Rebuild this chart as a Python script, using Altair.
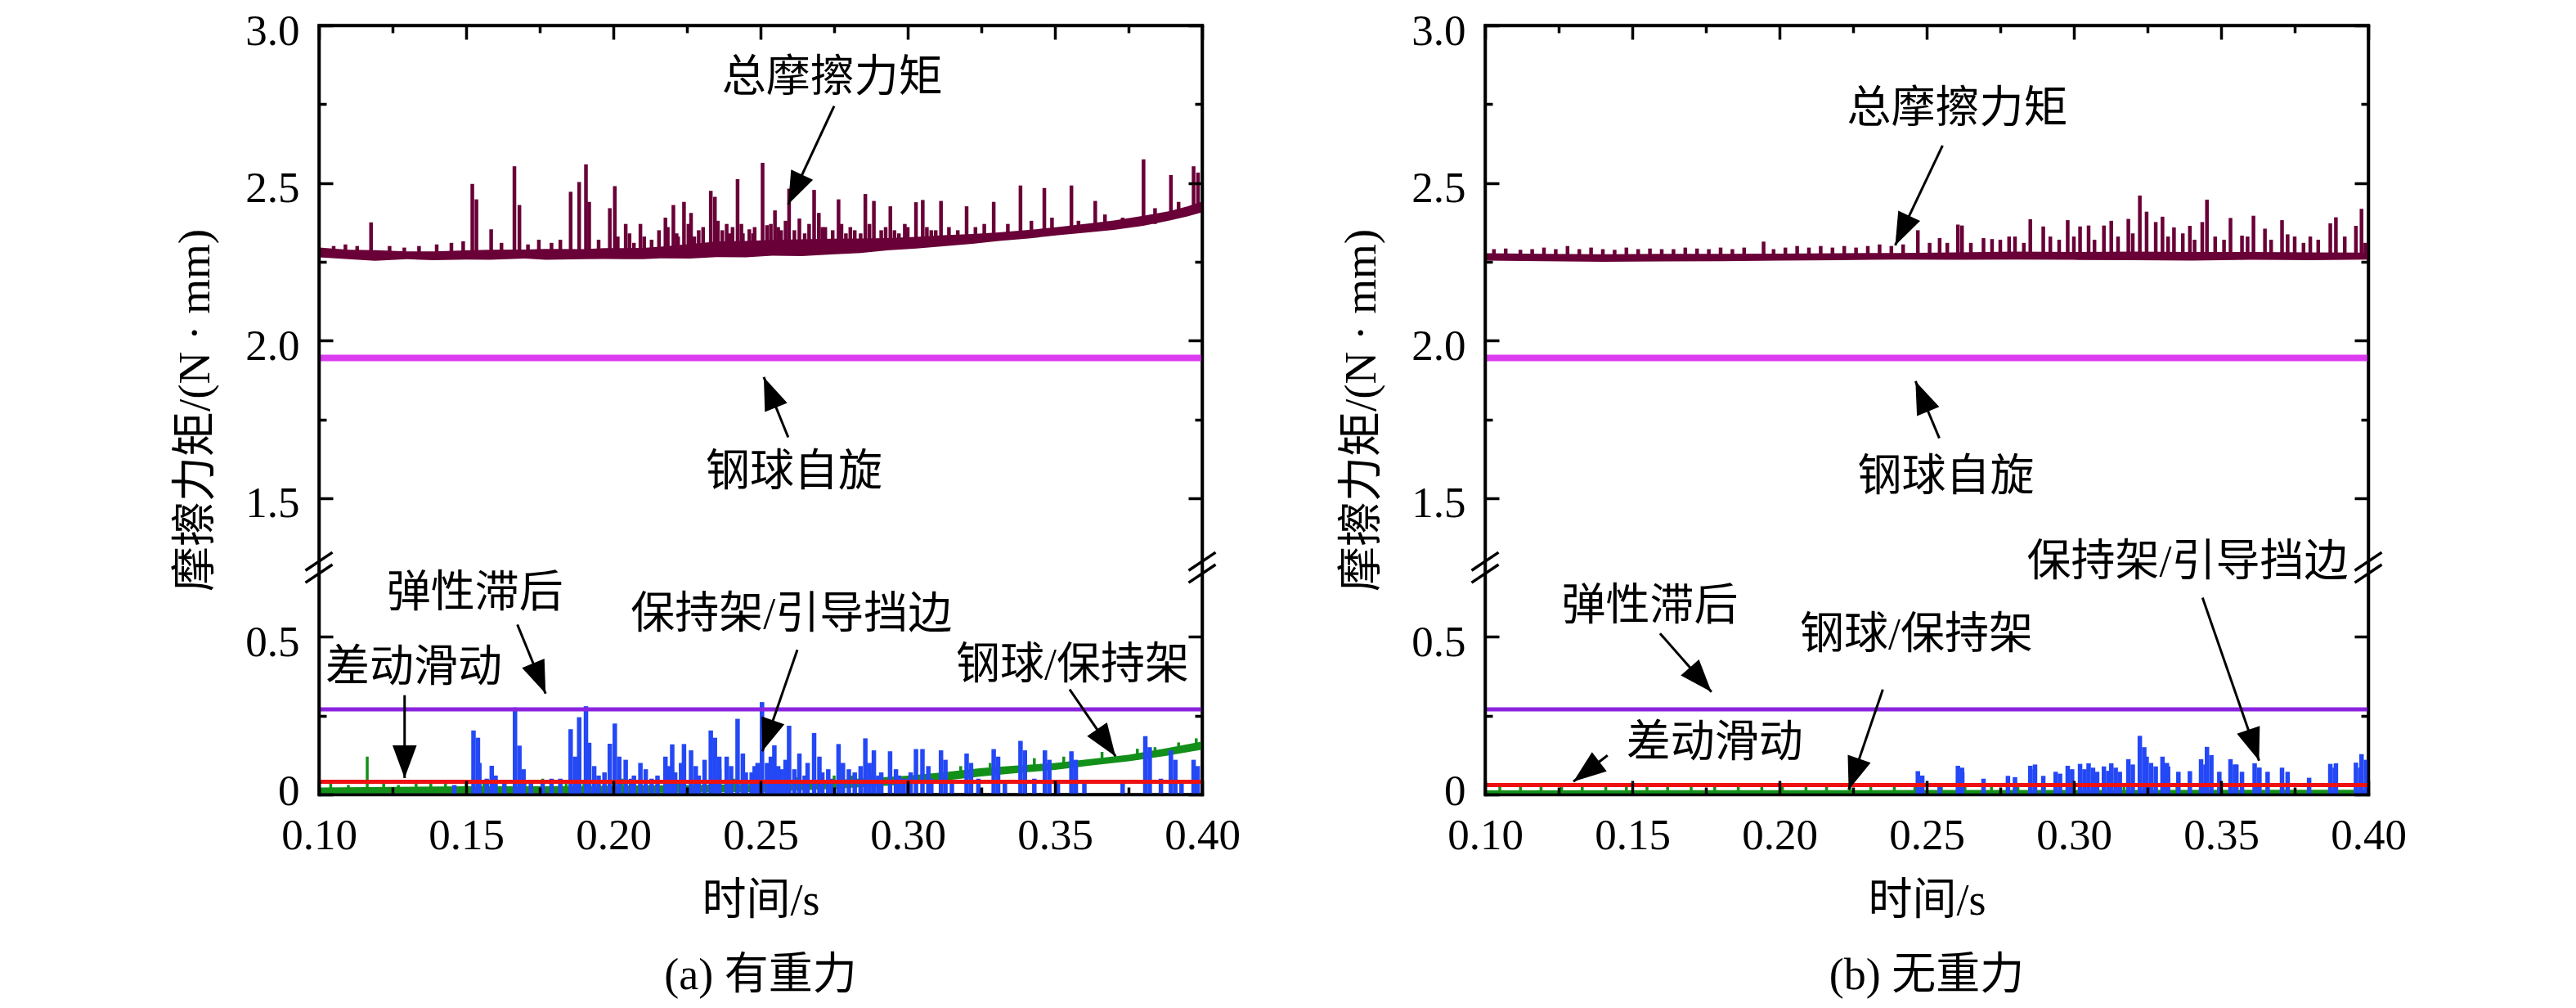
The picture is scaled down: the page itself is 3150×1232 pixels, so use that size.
import math
import altair as alt
import pandas as pd

# ---------------- values ----------------
X_MAJ = [0.10, 0.15, 0.20, 0.25, 0.30, 0.35, 0.40]
X_MIN = [0.125, 0.175, 0.225, 0.275, 0.325, 0.375]
Y_MAJ = [0.0, 0.5, 1.5, 2.0, 2.5, 3.0]
Y_MIN = [0.25, 1.75, 2.25, 2.75]

BREAK_LOW_TOP = 0.72      # lower segment: 0 .. 0.72
BREAK_HIGH_BOTTOM = 1.28  # upper segment: 1.28 .. 3.0
Y_TOP = 3.0

LINE_T = [0.10, 0.40]

# ----- (a) with gravity -----
A_TOTAL_BAND = [  # (t, low edge, high edge) of the noisy total-torque band
    (0.100, 2.264, 2.295), (0.110, 2.258, 2.288), (0.119, 2.253, 2.287), (0.130, 2.258, 2.283),
    (0.139, 2.255, 2.283), (0.150, 2.257, 2.286), (0.158, 2.256, 2.288), (0.170, 2.260, 2.289),
    (0.177, 2.256, 2.291), (0.190, 2.258, 2.290), (0.197, 2.259, 2.293), (0.210, 2.258, 2.294),
    (0.216, 2.261, 2.298), (0.226, 2.260, 2.306), (0.235, 2.265, 2.314), (0.245, 2.264, 2.316),
    (0.254, 2.269, 2.319), (0.264, 2.268, 2.321), (0.274, 2.273, 2.323), (0.284, 2.278, 2.324),
    (0.293, 2.286, 2.325), (0.303, 2.292, 2.329), (0.312, 2.299, 2.334), (0.322, 2.307, 2.338),
    (0.331, 2.316, 2.343), (0.341, 2.324, 2.351), (0.351, 2.334, 2.360), (0.360, 2.342, 2.370),
    (0.370, 2.351, 2.381), (0.380, 2.364, 2.396), (0.389, 2.381, 2.411), (0.395, 2.394, 2.426),
    (0.400, 2.407, 2.441),
]
A_TOTAL_SPIKES = [  # (t, base, peak)
    (0.105, 2.27, 2.300), (0.109, 2.27, 2.305), (0.113, 2.27, 2.300), (0.1177, 2.27, 2.375),
    (0.124, 2.27, 2.300), (0.129, 2.27, 2.295), (0.134, 2.27, 2.300), (0.140, 2.27, 2.305),
    (0.145, 2.27, 2.310), (0.149, 2.27, 2.315), (0.1521, 2.27, 2.497), (0.1535, 2.27, 2.448),
    (0.1585, 2.27, 2.353), (0.162, 2.27, 2.310), (0.1664, 2.27, 2.553), (0.1681, 2.27, 2.430),
    (0.171, 2.27, 2.305), (0.1747, 2.27, 2.320), (0.179, 2.27, 2.310), (0.182, 2.27, 2.320),
    (0.1855, 2.27, 2.472), (0.1884, 2.27, 2.503), (0.1907, 2.27, 2.559), (0.1918, 2.27, 2.440),
    (0.195, 2.27, 2.320), (0.1988, 2.27, 2.420), (0.2005, 2.28, 2.490), (0.2042, 2.28, 2.370),
    (0.207, 2.28, 2.310), (0.2092, 2.28, 2.370), (0.213, 2.28, 2.320), (0.2177, 2.28, 2.390),
    (0.2204, 2.28, 2.430), (0.222, 2.28, 2.330), (0.2240, 2.28, 2.440), (0.2264, 2.28, 2.405),
    (0.229, 2.28, 2.350), (0.2331, 2.28, 2.475), (0.2345, 2.28, 2.456), (0.237, 2.28, 2.350),
    (0.2385, 2.28, 2.370), (0.2422, 2.28, 2.512), (0.244, 2.28, 2.340), (0.2462, 2.28, 2.353),
    (0.248, 2.28, 2.360), (0.2507, 2.29, 2.564), (0.2522, 2.29, 2.366), (0.2549, 2.29, 2.413),
    (0.257, 2.29, 2.350), (0.2597, 2.29, 2.482), (0.2632, 2.29, 2.387), (0.265, 2.29, 2.340),
    (0.2682, 2.29, 2.478), (0.2698, 2.29, 2.405), (0.272, 2.29, 2.360), (0.2765, 2.29, 2.448),
    (0.279, 2.29, 2.340), (0.282, 2.29, 2.350), (0.2856, 2.29, 2.465), (0.2885, 2.29, 2.443),
    (0.291, 2.30, 2.350), (0.2941, 2.30, 2.426), (0.297, 2.30, 2.340), (0.300, 2.30, 2.360),
    (0.3028, 2.30, 2.439), (0.3051, 2.30, 2.446), (0.308, 2.30, 2.350), (0.3113, 2.32, 2.443),
    (0.314, 2.32, 2.360), (0.317, 2.32, 2.350), (0.3200, 2.32, 2.426), (0.323, 2.32, 2.360),
    (0.326, 2.32, 2.370), (0.3292, 2.32, 2.440), (0.334, 2.335, 2.370), (0.3383, 2.335, 2.492),
    (0.342, 2.335, 2.380), (0.3464, 2.335, 2.484), (0.349, 2.335, 2.390), (0.3556, 2.35, 2.492),
    (0.358, 2.35, 2.380), (0.3637, 2.35, 2.443), (0.367, 2.35, 2.400), (0.373, 2.37, 2.390),
    (0.3801, 2.37, 2.575), (0.384, 2.37, 2.420), (0.3894, 2.39, 2.525), (0.392, 2.39, 2.440),
    (0.3971, 2.42, 2.553), (0.3986, 2.42, 2.533),
    (0.2015, 2.28, 2.33), (0.2055, 2.28, 2.34), (0.2105, 2.28, 2.33), (0.2155, 2.28, 2.35),
    (0.2185, 2.28, 2.36), (0.2215, 2.28, 2.34), (0.2255, 2.28, 2.37), (0.2275, 2.28, 2.33),
    (0.2305, 2.28, 2.36), (0.2355, 2.28, 2.38), (0.2395, 2.28, 2.34), (0.2405, 2.28, 2.36),
    (0.2435, 2.28, 2.37), (0.2475, 2.28, 2.34), (0.2535, 2.29, 2.37), (0.2560, 2.29, 2.36),
    (0.2585, 2.29, 2.38), (0.2615, 2.29, 2.35), (0.2665, 2.29, 2.37), (0.2710, 2.29, 2.36),
    (0.2745, 2.29, 2.35), (0.2775, 2.29, 2.37), (0.2805, 2.29, 2.36), (0.2840, 2.29, 2.34),
    (0.2870, 2.29, 2.37), (0.2925, 2.30, 2.36), (0.2955, 2.30, 2.35), (0.2990, 2.30, 2.37),
    (0.3065, 2.30, 2.36), (0.3095, 2.30, 2.35),
]
A_SPIN = [1.945, 1.945]
A_HYST = [0.27, 0.27]
A_SLIP = [0.04, 0.04]
A_GREEN_BAND = [
    (0.100, 0.003, 0.022), (0.125, 0.004, 0.024), (0.150, 0.004, 0.026), (0.175, 0.005, 0.026),
    (0.200, 0.005, 0.028), (0.225, 0.006, 0.030), (0.250, 0.008, 0.034), (0.275, 0.018, 0.046),
    (0.290, 0.026, 0.054), (0.300, 0.032, 0.060), (0.3125, 0.044, 0.071), (0.325, 0.057, 0.084),
    (0.3375, 0.068, 0.092), (0.350, 0.078, 0.100), (0.3625, 0.092, 0.113), (0.375, 0.105, 0.126),
    (0.3875, 0.122, 0.146), (0.400, 0.142, 0.168),
]
A_GREEN_SPIKES = [
    (0.104, 0.01, 0.035), (0.110, 0.01, 0.030), (0.1164, 0.01, 0.120), (0.122, 0.01, 0.035),
    (0.127, 0.01, 0.030), (0.133, 0.01, 0.040), (0.138, 0.01, 0.035), (0.143, 0.01, 0.040),
    (0.150, 0.01, 0.035), (0.156, 0.01, 0.040), (0.163, 0.01, 0.035), (0.170, 0.01, 0.040),
    (0.176, 0.01, 0.050), (0.184, 0.01, 0.040), (0.190, 0.01, 0.045), (0.197, 0.01, 0.040),
    (0.203, 0.01, 0.050), (0.209, 0.01, 0.040), (0.215, 0.01, 0.045), (0.222, 0.01, 0.040),
    (0.228, 0.01, 0.050), (0.234, 0.01, 0.045), (0.241, 0.01, 0.050), (0.248, 0.02, 0.045),
    (0.255, 0.02, 0.050), (0.262, 0.02, 0.055), (0.268, 0.02, 0.050), (0.275, 0.03, 0.060),
    (0.281, 0.03, 0.060), (0.288, 0.03, 0.065), (0.294, 0.04, 0.070), (0.305, 0.05, 0.085),
    (0.318, 0.06, 0.090), (0.328, 0.07, 0.100), (0.343, 0.08, 0.115), (0.353, 0.09, 0.120),
    (0.366, 0.10, 0.135), (0.378, 0.11, 0.145), (0.384, 0.12, 0.150), (0.392, 0.13, 0.165),
    (0.398, 0.14, 0.178),
]
A_BLUE = [  # (t, peak), spikes rise from 0
    (0.146, 0.030), (0.1525, 0.203), (0.1540, 0.180), (0.157, 0.050), (0.1587, 0.091),
    (0.1666, 0.276), (0.1681, 0.155), (0.172, 0.040), (0.176, 0.035), (0.182, 0.050),
    (0.1855, 0.207), (0.1884, 0.245), (0.1907, 0.280), (0.1918, 0.164), (0.195, 0.060),
    (0.1988, 0.161), (0.2005, 0.225), (0.2042, 0.110), (0.207, 0.060), (0.2092, 0.100),
    (0.213, 0.050), (0.2177, 0.120), (0.2200, 0.159), (0.221, 0.070), (0.2240, 0.160),
    (0.2264, 0.140), (0.229, 0.060), (0.2331, 0.203), (0.2345, 0.180), (0.236, 0.080),
    (0.2385, 0.120), (0.2422, 0.240), (0.245, 0.070), (0.248, 0.090), (0.2505, 0.293),
    (0.2522, 0.100), (0.2547, 0.156), (0.257, 0.080), (0.2597, 0.218), (0.2632, 0.130),
    (0.265, 0.060), (0.2682, 0.195), (0.271, 0.070), (0.274, 0.050), (0.2765, 0.160),
    (0.280, 0.080), (0.2856, 0.178), (0.2885, 0.140), (0.291, 0.070), (0.2940, 0.137),
    (0.297, 0.060), (0.300, 0.050), (0.3028, 0.144), (0.3050, 0.144), (0.308, 0.050),
    (0.3113, 0.140), (0.315, 0.040), (0.3200, 0.130), (0.324, 0.050), (0.3292, 0.144),
    (0.333, 0.040), (0.3383, 0.170), (0.343, 0.050), (0.3466, 0.140), (0.351, 0.040),
    (0.3556, 0.137), (0.360, 0.040), (0.373, 0.040), (0.3807, 0.185), (0.386, 0.050),
    (0.3894, 0.140), (0.393, 0.040), (0.3971, 0.110),
    (0.1545, 0.100), (0.1600, 0.060), (0.1630, 0.040), (0.1695, 0.080), (0.1790, 0.050),
    (0.1870, 0.120), (0.1935, 0.090), (0.1970, 0.070), (0.2020, 0.120), (0.2060, 0.050),
    (0.2110, 0.080), (0.2150, 0.060), (0.2190, 0.090), (0.2230, 0.100), (0.2280, 0.090),
    (0.2310, 0.110), (0.2360, 0.120), (0.2400, 0.090), (0.2440, 0.130), (0.2470, 0.070),
    (0.2490, 0.100), (0.2535, 0.120), (0.2560, 0.090), (0.2585, 0.110), (0.2615, 0.080),
    (0.2660, 0.100), (0.2700, 0.120), (0.2730, 0.080), (0.2780, 0.100), (0.2820, 0.070),
    (0.2840, 0.090), (0.2870, 0.100), (0.2900, 0.060), (0.2960, 0.080), (0.2985, 0.050),
    (0.3010, 0.070), (0.3070, 0.090), (0.3128, 0.110), (0.3215, 0.100), (0.3307, 0.120),
    (0.3398, 0.140), (0.3481, 0.110), (0.3571, 0.110), (0.3822, 0.150), (0.3909, 0.110),
    (0.3985, 0.090),
]
A_TEXT = [
    ("总摩擦力矩", 0.2744, 2.831), ("钢球自旋", 0.2614, 1.579), ("弹性滞后", 0.153, 0.635),
    ("差动滑动", 0.1322, 0.400), ("保持架/引导挡边", 0.2605, 0.568), ("钢球/保持架", 0.356, 0.408),
]
A_ARROWS = [  # (tail t, tail value, tip t, tip value)
    (0.275, 2.744, 0.2594, 2.432), (0.2594, 1.693, 0.2511, 1.884), (0.1674, 0.539, 0.177, 0.320),
    (0.1291, 0.315, 0.1291, 0.052), (0.2625, 0.459, 0.2506, 0.137), (0.355, 0.333, 0.3706, 0.121),
]

# ----- (b) without gravity -----
B_TOTAL_BAND = [
    (0.100, 2.254, 2.277), (0.120, 2.252, 2.275), (0.140, 2.250, 2.274), (0.160, 2.251, 2.275),
    (0.180, 2.252, 2.275), (0.200, 2.254, 2.276), (0.220, 2.255, 2.277), (0.240, 2.257, 2.278),
    (0.260, 2.256, 2.280), (0.280, 2.257, 2.282), (0.300, 2.256, 2.281), (0.320, 2.255, 2.282),
    (0.340, 2.254, 2.281), (0.360, 2.256, 2.281), (0.380, 2.255, 2.280), (0.400, 2.257, 2.279),
]
B_TOTAL_SPIKES = [
    (0.103, 2.265, 2.290), (0.107, 2.265, 2.292), (0.112, 2.265, 2.288), (0.116, 2.265, 2.290),
    (0.120, 2.265, 2.295), (0.124, 2.265, 2.290), (0.128, 2.265, 2.300), (0.132, 2.265, 2.290),
    (0.136, 2.265, 2.295), (0.140, 2.265, 2.290), (0.144, 2.265, 2.288), (0.148, 2.265, 2.295),
    (0.152, 2.265, 2.290), (0.156, 2.265, 2.292), (0.160, 2.265, 2.290), (0.164, 2.265, 2.290),
    (0.168, 2.265, 2.295), (0.172, 2.265, 2.292), (0.176, 2.265, 2.290), (0.180, 2.265, 2.295),
    (0.184, 2.265, 2.290), (0.188, 2.265, 2.295), (0.1946, 2.265, 2.314), (0.198, 2.265, 2.290),
    (0.202, 2.265, 2.295), (0.206, 2.265, 2.300), (0.210, 2.265, 2.295), (0.214, 2.265, 2.300),
    (0.218, 2.265, 2.295), (0.222, 2.265, 2.300), (0.226, 2.265, 2.295), (0.230, 2.265, 2.300),
    (0.234, 2.265, 2.305), (0.238, 2.265, 2.300), (0.242, 2.265, 2.305), (0.247, 2.265, 2.350),
    (0.251, 2.265, 2.310), (0.2544, 2.265, 2.325), (0.257, 2.265, 2.310), (0.2606, 2.265, 2.368),
    (0.2620, 2.265, 2.365), (0.265, 2.265, 2.310), (0.2693, 2.265, 2.325), (0.2722, 2.265, 2.322),
    (0.275, 2.265, 2.320), (0.278, 2.265, 2.330), (0.280, 2.265, 2.330), (0.283, 2.265, 2.310),
    (0.2852, 2.265, 2.385), (0.2896, 2.265, 2.362), (0.292, 2.265, 2.330), (0.295, 2.265, 2.320),
    (0.2979, 2.265, 2.382), (0.300, 2.265, 2.330), (0.3021, 2.265, 2.362), (0.305, 2.265, 2.365),
    (0.307, 2.265, 2.320), (0.3102, 2.265, 2.365), (0.3127, 2.265, 2.380), (0.315, 2.265, 2.330),
    (0.3185, 2.265, 2.386), (0.320, 2.265, 2.340), (0.3224, 2.265, 2.460), (0.3247, 2.265, 2.409),
    (0.3278, 2.265, 2.376), (0.3301, 2.265, 2.393), (0.332, 2.265, 2.330), (0.334, 2.265, 2.359),
    (0.337, 2.265, 2.340), (0.3394, 2.265, 2.364), (0.341, 2.265, 2.320), (0.3436, 2.265, 2.376),
    (0.3452, 2.265, 2.447), (0.348, 2.265, 2.330), (0.351, 2.265, 2.320), (0.3532, 2.265, 2.389),
    (0.3571, 2.265, 2.333), (0.359, 2.265, 2.330), (0.361, 2.265, 2.396), (0.3649, 2.265, 2.355),
    (0.367, 2.265, 2.320), (0.3707, 2.265, 2.382), (0.3726, 2.265, 2.337), (0.375, 2.265, 2.330),
    (0.378, 2.265, 2.310), (0.3803, 2.265, 2.330), (0.383, 2.265, 2.320), (0.3871, 2.265, 2.372),
    (0.389, 2.265, 2.391), (0.392, 2.265, 2.330), (0.3958, 2.265, 2.364), (0.3977, 2.265, 2.418),
    (0.399, 2.265, 2.310),
]
B_SPIN = [1.945, 1.945]
B_HYST = [0.27, 0.27]
B_SLIP = [0.03, 0.03]
B_GREEN_BAND = [(0.100, 0.002, 0.013), (0.250, 0.002, 0.014), (0.400, 0.002, 0.015)]
B_GREEN_SPIKES = [
    (0.105, 0.005, 0.030), (0.112, 0.005, 0.025), (0.119, 0.005, 0.036), (0.126, 0.005, 0.025),
    (0.133, 0.005, 0.030), (0.141, 0.005, 0.028), (0.148, 0.005, 0.033), (0.155, 0.005, 0.030),
    (0.162, 0.005, 0.028), (0.170, 0.005, 0.032), (0.178, 0.005, 0.030), (0.186, 0.005, 0.035),
    (0.194, 0.005, 0.028), (0.201, 0.005, 0.032), (0.209, 0.005, 0.030), (0.216, 0.005, 0.034),
    (0.224, 0.005, 0.030), (0.231, 0.005, 0.036), (0.239, 0.005, 0.030), (0.246, 0.005, 0.033),
    (0.255, 0.005, 0.030), (0.263, 0.005, 0.035), (0.272, 0.005, 0.030), (0.281, 0.005, 0.033),
    (0.290, 0.005, 0.030), (0.299, 0.005, 0.035), (0.308, 0.005, 0.030), (0.317, 0.005, 0.036),
    (0.326, 0.005, 0.030), (0.335, 0.005, 0.032), (0.344, 0.005, 0.030), (0.353, 0.005, 0.034),
    (0.362, 0.005, 0.030), (0.371, 0.005, 0.033), (0.380, 0.005, 0.035), (0.389, 0.005, 0.030),
    (0.396, 0.005, 0.032),
]
B_BLUE = [
    (0.247, 0.074), (0.2544, 0.036), (0.2606, 0.091), (0.2620, 0.085), (0.2693, 0.050),
    (0.2776, 0.059), (0.2800, 0.055), (0.2852, 0.091), (0.2868, 0.095), (0.2896, 0.059),
    (0.2938, 0.072), (0.2953, 0.066), (0.2979, 0.091), (0.3021, 0.097), (0.3050, 0.099),
    (0.3079, 0.072), (0.3102, 0.089), (0.3127, 0.099), (0.3156, 0.072), (0.3185, 0.112),
    (0.3224, 0.186), (0.3247, 0.120), (0.3278, 0.089), (0.3301, 0.120), (0.3320, 0.089),
    (0.3355, 0.072), (0.3394, 0.074), (0.3432, 0.112), (0.3452, 0.151), (0.3494, 0.072),
    (0.3532, 0.112), (0.3552, 0.095), (0.3571, 0.072), (0.3614, 0.099), (0.3630, 0.085),
    (0.3658, 0.072), (0.3707, 0.085), (0.3726, 0.072), (0.3799, 0.053), (0.3871, 0.097),
    (0.3890, 0.099), (0.3958, 0.101), (0.3977, 0.128),
    (0.2485, 0.060), (0.2621, 0.070), (0.2867, 0.080), (0.2994, 0.080), (0.3036, 0.080),
    (0.3065, 0.085), (0.3117, 0.075), (0.3142, 0.085), (0.3200, 0.095), (0.3239, 0.150),
    (0.3262, 0.100), (0.3316, 0.100), (0.3447, 0.095), (0.3467, 0.125), (0.3547, 0.095),
    (0.3629, 0.085), (0.3886, 0.085), (0.3973, 0.085), (0.3992, 0.110),
]
B_TEXT = [
    ("总摩擦力矩", 0.2604, 2.733), ("钢球自旋", 0.2565, 1.564), ("保持架/引导挡边", 0.3386, 0.735),
    ("弹性滞后", 0.156, 0.594), ("钢球/保持架", 0.2465, 0.503), ("差动滑动", 0.178, 0.162),
]
B_ARROWS = [
    (0.2554, 2.619, 0.2393, 2.302), (0.2543, 1.690, 0.2462, 1.871), (0.3437, 0.624, 0.3629, 0.107),
    (0.1594, 0.511, 0.1769, 0.325), (0.2351, 0.333, 0.2235, 0.015), (0.1416, 0.124, 0.1300, 0.041),
]

# ---------------- style ----------------
W, H = 1080, 940
GAP = BREAK_HIGH_BOTTOM - BREAK_LOW_TOP
YTOP = Y_TOP - GAP
FONT = "Liberation Serif, Noto Sans CJK SC"
C_TOTAL = "#690037"
C_SPIN = "#DC3CF0"
C_HYST = "#8A22E0"
C_SLIP = "#EE1111"
C_GREEN = "#13901A"
C_BLUE = "#2448F5"
HEAD_PATH = "M0,0L0.37,1L-0.37,1Z"
HEAD_SIZE = 6400
BREAK_PATH = "M-1,0.22L1,-1.12M-1,1.12L1,-0.22"


def disp(v):
    return v - GAP if v >= 1.0 else v


def dexpr(f):
    return f"datum.{f} >= 1 ? datum.{f} - {GAP:.4f} : datum.{f}"


Y_MAJ_D = [disp(v) for v in Y_MAJ]
Y_MIN_D = [disp(v) for v in Y_MIN]
LABEL_EXPR = (f"datum.value > {BREAK_LOW_TOP} ? format(datum.value + {GAP:.4f}, '.1f') : "
              "(datum.value == 0 ? '0' : format(datum.value, '.1f'))")

TXT = dict(labelFont=FONT, labelColor="black", titleFont=FONT, titleColor="black",
           titleFontWeight="normal")


def ax_lab_x():
    return alt.Axis(orient="bottom", values=X_MAJ, format=".2f", ticks=False, tickSize=0,
                    domain=False, grid=False, labelFontSize=53, labelPadding=24,
                    labelFlush=False, title="时间/s", titleFontSize=54, titlePadding=26, **TXT)


def ax_lab_y():
    # all y labels except the "0" at the bottom corner
    return alt.Axis(orient="left", values=Y_MAJ_D[1:], labelExpr=LABEL_EXPR, ticks=False,
                    tickSize=0, domain=False, grid=False, labelFontSize=53, labelPadding=24,
                    labelOffset=7, labelFlush=False, title="摩擦力矩/(N · mm)",
                    titleFontSize=55, titlePadding=32, **TXT)


def ax_zero_y():
    # the "0" label sits a little higher so it clears the "0.10" below it
    return alt.Axis(orient="left", values=Y_MAJ_D[:1], labelExpr=LABEL_EXPR, ticks=False,
                    tickSize=0, domain=False, grid=False, labelFontSize=53, labelPadding=24,
                    labelOffset=-4, labelFlush=False, title=None, **TXT)


def ax_ticks(orient, offset, values, size, frame=False):
    return alt.Axis(orient=orient, offset=offset, values=values, labels=False, domain=frame,
                    domainColor="black", domainWidth=3.5, domainCap="square",
                    grid=False, ticks=True, tickSize=size, tickWidth=3.5, tickColor="black",
                    title=None, zindex=2)


def px(t, v):
    return (t - 0.1) / 0.3 * W, (YTOP - disp(v)) / YTOP * H


def panel(total_band, total_spikes, spin, hyst, slip, green_band, green_spikes, blue,
          texts, arrows, caption):
    xs = alt.Scale(domain=[0.1, 0.4], nice=False, zero=False)
    ys = alt.Scale(domain=[0.0, YTOP], nice=False, zero=False)

    def ex(f, axis=None):
        return alt.X(f"{f}:Q", scale=xs, axis=axis)

    def ey(f, axis=None):
        return alt.Y(f"{f}:Q", scale=ys, axis=axis)

    tb = pd.DataFrame(total_band, columns=["t", "lo", "hi"])
    l_tb = (alt.Chart(tb).transform_calculate(dlo=dexpr("lo"), dhi=dexpr("hi"))
            .mark_area(color=C_TOTAL)
            .encode(x=ex("t", ax_lab_x()), y=ey("dlo", ax_lab_y()), y2="dhi:Q"))

    ts = pd.DataFrame(total_spikes, columns=["t", "lo", "hi"])
    l_ts = (alt.Chart(ts).transform_calculate(dlo=dexpr("lo"), dhi=dexpr("hi"))
            .mark_rule(color=C_TOTAL, strokeWidth=4.5)
            .encode(x=ex("t", ax_ticks("top", -H, X_MAJ, 17, True)),
                    y=ey("dlo", ax_ticks("right", -W, Y_MAJ_D, 17, True)), y2="dhi:Q"))

    sp = pd.DataFrame({"t": LINE_T, "v": spin})
    l_sp = (alt.Chart(sp).transform_calculate(d=dexpr("v"))
            .mark_line(color=C_SPIN, strokeWidth=8)
            .encode(x=ex("t", ax_ticks("top", -H, X_MIN, 9)),
                    y=ey("d", ax_ticks("right", -W, Y_MIN_D, 9))))

    gb = pd.DataFrame(green_band, columns=["t", "lo", "hi"])
    l_gb = (alt.Chart(gb).mark_area(color=C_GREEN)
            .encode(x=ex("t"), y=ey("lo", ax_zero_y()), y2="hi:Q"))

    gs = pd.DataFrame(green_spikes, columns=["t", "lo", "hi"])
    l_gs = (alt.Chart(gs).mark_rule(color=C_GREEN, strokeWidth=3.5)
            .encode(x=ex("t"), y=ey("lo"), y2="hi:Q"))

    bl = pd.DataFrame(blue, columns=["t", "v"])
    bl["z"] = 0.0
    l_bl = (alt.Chart(bl).mark_rule(color=C_BLUE, strokeWidth=5.5)
            .encode(x=ex("t"), y=ey("z"), y2="v:Q"))

    rd = pd.DataFrame({"t": LINE_T, "v": slip})
    l_rd = (alt.Chart(rd).mark_line(color=C_SLIP, strokeWidth=5)
            .encode(x=ex("t", ax_ticks("bottom", -H, X_MIN, 9)),
                    y=ey("v", ax_ticks("left", -W, Y_MIN_D, 9))))

    pu = pd.DataFrame({"t": LINE_T, "v": hyst})
    l_pu = (alt.Chart(pu).mark_line(color=C_HYST, strokeWidth=5)
            .encode(x=ex("t", ax_ticks("bottom", -H, X_MAJ, 17, True)),
                    y=ey("v", ax_ticks("left", -W, Y_MAJ_D, 17, True))))

    ar = pd.DataFrame(arrows, columns=["t0", "v0", "t1", "v1"])
    angs = []
    for t0, v0, t1, v1 in arrows:
        x0, y0 = px(t0, v0)
        x1, y1 = px(t1, v1)
        angs.append(math.degrees(math.atan2(x1 - x0, -(y1 - y0))) % 360)
    ar["ang"] = angs
    l_ar = (alt.Chart(ar).transform_calculate(d0=dexpr("v0"), d1=dexpr("v1"))
            .mark_rule(color="black", strokeWidth=3)
            .encode(x=ex("t0"), y=ey("d0"), x2="t1:Q", y2="d1:Q"))
    l_hd = (alt.Chart(ar).transform_calculate(d1=dexpr("v1"))
            .mark_point(shape=HEAD_PATH, size=HEAD_SIZE, filled=True, color="black", opacity=1,
                        strokeWidth=0)
            .encode(x=ex("t1"), y=ey("d1"), angle=alt.Angle("ang:Q", scale=None)))

    tx = pd.DataFrame(texts, columns=["label", "t", "v"])
    l_tx = (alt.Chart(tx).transform_calculate(d=dexpr("v"))
            .mark_text(font=FONT, fontSize=54, color="black", align="center", baseline="middle")
            .encode(x=ex("t"), y=ey("d"), text="label:N"))

    br = pd.DataFrame({"t": [0.1, 0.4], "v": [BREAK_LOW_TOP, BREAK_LOW_TOP]})
    l_br = (alt.Chart(br).mark_point(shape=BREAK_PATH, size=1089, filled=False, color="black",
                                     strokeWidth=3.5, opacity=1)
            .encode(x=ex("t"), y=ey("v")))

    return (alt.layer(l_tb, l_ts, l_sp, l_gb, l_gs, l_bl, l_rd, l_pu, l_ar, l_hd, l_tx, l_br)
            .resolve_axis(x="independent", y="independent")
            .properties(width=W, height=H,
                        title=alt.TitleParams(text=caption, orient="bottom", frame="group",
                                              anchor="middle", fontSize=54, font=FONT,
                                              fontWeight="normal", offset=38, color="black")))


pa = panel(A_TOTAL_BAND, A_TOTAL_SPIKES, A_SPIN, A_HYST, A_SLIP, A_GREEN_BAND, A_GREEN_SPIKES,
           A_BLUE, A_TEXT, A_ARROWS, "(a) 有重力")
pb = panel(B_TOTAL_BAND, B_TOTAL_SPIKES, B_SPIN, B_HYST, B_SLIP, B_GREEN_BAND, B_GREEN_SPIKES,
           B_BLUE, B_TEXT, B_ARROWS, "(b) 无重力")

chart = (alt.hconcat(pa, pb, spacing=117)
         .properties(padding={"left": 202, "top": 2, "right": 5, "bottom": 0},
                     background="white")
         .configure_view(stroke="black", strokeWidth=3.5))

chart.save("out.html", embed_options={"renderer": "svg", "actions": False})
